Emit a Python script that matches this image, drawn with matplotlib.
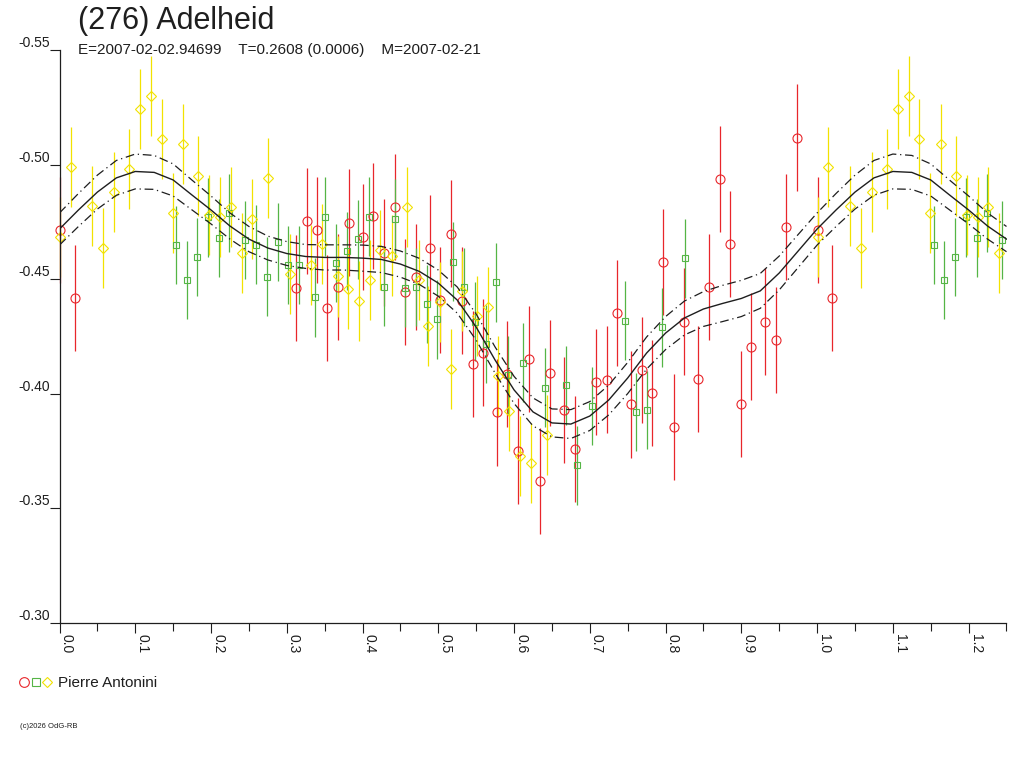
import numpy as np
import matplotlib
matplotlib.use('Agg')
import matplotlib.pyplot as plt
from matplotlib.lines import Line2D
from matplotlib.legend_handler import HandlerTuple

plt.rcParams['font.family'] = ['Liberation Sans', 'DejaVu Sans']

# ---------------- text ----------------
title = "(276) Adelheid"
subtitle = "E=2007-02-02.94699    T=0.2608 (0.0006)    M=2007-02-21"
observer = "Pierre Antonini"
copyright_txt = "(c)2026 OdG-RB"

# ---------------- data (phase, relative magnitude) ----------------
red_phase = [0.0007, 0.0201, 0.3116, 0.3261, 0.3393, 0.3533, 0.3678, 0.3819, 0.4000, 0.4140,
             0.4281, 0.4422, 0.4567, 0.4703, 0.4892, 0.5029, 0.5174, 0.5317, 0.5455, 0.5591,
             0.5781, 0.5908, 0.6058, 0.6194, 0.6339, 0.6480, 0.6660, 0.6801, 0.7078, 0.7222,
             0.7359, 0.7540, 0.7685, 0.7826, 0.7966, 0.8107, 0.8243, 0.8427, 0.8573, 0.8714,
             0.8846, 0.8991, 0.9132, 0.9317, 0.9453, 0.9594, 0.9734]
red_mag = [-0.4715, -0.4417, -0.4463, -0.4754, -0.4715, -0.4373, -0.4466, -0.4747, -0.4685, -0.4776,
           -0.4616, -0.4816, -0.4445, -0.4511, -0.4637, -0.4409, -0.4699, -0.4407, -0.4129, -0.4180,
           -0.3919, -0.4086, -0.3750, -0.4151, -0.3620, -0.4091, -0.3929, -0.3760, -0.4051, -0.4062,
           -0.4353, -0.3954, -0.4104, -0.4003, -0.4574, -0.3854, -0.4315, -0.4065, -0.4465, -0.4936,
           -0.4654, -0.3955, -0.4206, -0.4315, -0.4235, -0.4728, -0.5118]
red_err = 0.0232

green_phase = [0.1537, 0.1678, 0.1818, 0.1963, 0.2108, 0.2240, 0.2447, 0.2592, 0.2734, 0.2879,
               0.3018, 0.3164, 0.3367, 0.3509, 0.3644, 0.3789, 0.3934, 0.4079, 0.4277, 0.4422,
               0.4562, 0.4703, 0.4855, 0.4987, 0.5195, 0.5343, 0.5482, 0.5627, 0.5768, 0.5921,
               0.6119, 0.6405, 0.6686, 0.6831, 0.7034, 0.7470, 0.7615, 0.7755, 0.7958, 0.8252]
green_mag = [-0.4649, -0.4497, -0.4598, -0.4770, -0.4681, -0.4790, -0.4670, -0.4651, -0.4511, -0.4661,
             -0.4561, -0.4561, -0.4421, -0.4773, -0.4572, -0.4624, -0.4674, -0.4773, -0.4465, -0.4764,
             -0.4463, -0.4465, -0.4393, -0.4325, -0.4577, -0.4466, -0.4315, -0.4217, -0.4486, -0.4082,
             -0.4136, -0.4027, -0.4037, -0.3688, -0.3948, -0.4319, -0.3920, -0.3929, -0.4290, -0.4591]
green_err = 0.0171

yellow_phase = [0.0007, 0.0148, 0.0433, 0.0578, 0.0719, 0.0917, 0.1062, 0.1207, 0.1348, 0.1493,
                0.1633, 0.1831, 0.1976, 0.2121, 0.2259, 0.2404, 0.2544, 0.2753, 0.3037, 0.3318,
                0.3470, 0.3670, 0.3806, 0.3955, 0.4096, 0.4228, 0.4387, 0.4584, 0.4739, 0.4868,
                0.5020, 0.5165, 0.5310, 0.5512, 0.5653, 0.5794, 0.5934, 0.6075, 0.6230, 0.6435]
yellow_mag = [-0.4685, -0.4988, -0.4819, -0.4637, -0.4879, -0.4981, -0.5241, -0.5301, -0.5110, -0.4790,
              -0.5090, -0.4950, -0.4780, -0.4773, -0.4814, -0.4613, -0.4763, -0.4943, -0.4523, -0.4562,
              -0.4654, -0.4512, -0.4456, -0.4405, -0.4497, -0.4627, -0.4603, -0.4816, -0.4497, -0.4296,
              -0.4401, -0.4108, -0.4450, -0.4340, -0.4378, -0.4078, -0.3926, -0.3729, -0.3697, -0.3820]
yellow_err = 0.0175

# fitted lightcurve, sampled every 0.025 in phase from 0.0 to 1.0
fit_phase = [round(0.025 * i, 3) for i in range(41)]
fit_mag = [-0.4719, -0.4802, -0.4880, -0.4942, -0.4970, -0.4966, -0.4933, -0.4867, -0.4802, -0.4732,
           -0.4675, -0.4636, -0.4612, -0.4599, -0.4595, -0.4595, -0.4592, -0.4586, -0.4566, -0.4534,
           -0.4483, -0.4409, -0.4291, -0.4147, -0.4017, -0.3921, -0.3873, -0.3868, -0.3903, -0.3973,
           -0.4069, -0.4178, -0.4265, -0.4331, -0.4370, -0.4394, -0.4416, -0.4449, -0.4527, -0.4623,
           -0.4719]
fit_sigma = [0.0070, 0.0072, 0.0074, 0.0076, 0.0076, 0.0074, 0.0070, 0.0065, 0.0061, 0.0057,
             0.0055, 0.0052, 0.0052, 0.0052, 0.0055, 0.0055, 0.0057, 0.0057, 0.0057, 0.0057,
             0.0057, 0.0057, 0.0057, 0.0057, 0.0059, 0.0061, 0.0061, 0.0063, 0.0063, 0.0065,
             0.0068, 0.0070, 0.0072, 0.0074, 0.0076, 0.0079, 0.0079, 0.0076, 0.0074, 0.0072,
             0.0070]

x_ticks = [0.0, 0.1, 0.2, 0.3, 0.4, 0.5, 0.6, 0.7, 0.8, 0.9, 1.0, 1.1, 1.2]
x_tick_labels = ['0.0', '0.1', '0.2', '0.3', '0.4', '0.5', '0.6', '0.7', '0.8', '0.9', '1.0', '1.1', '1.2']
y_ticks = [-0.55, -0.50, -0.45, -0.40, -0.35, -0.30]
y_tick_labels = ['-0.55', '-0.50', '-0.45', '-0.40', '-0.35', '-0.30']

PHASE_MAX = 1.25

RED = '#e8262b'
GREEN = '#55b545'
YELLOW = '#f2e200'
INK = '#1e1e1e'


def wrap(ph, mg):
    ph = np.asarray(ph, dtype=float)
    mg = np.asarray(mg, dtype=float)
    sel = ph + 1.0 <= PHASE_MAX
    return np.concatenate([ph, ph[sel] + 1.0]), np.concatenate([mg, mg[sel]])


fig = plt.figure(figsize=(10.24, 7.68), dpi=100)
ax = fig.add_axes([59.5 / 1024, 1 - 623 / 768, (1006.5 - 59.5) / 1024, (623 - 50) / 768])

series = [
    (red_phase, red_mag, red_err, RED, 'o', 6.5),
    (green_phase, green_mag, green_err, GREEN, 's', 4.4),
    (yellow_phase, yellow_mag, yellow_err, YELLOW, 'D', 4.6),
]
for ph, mg, er, col, mk, ms in series:
    p2, m2 = wrap(ph, mg)
    ax.errorbar(p2, m2, yerr=er, fmt=mk, ms=ms, mfc='none', mec=col, mew=0.8,
                ecolor=col, elinewidth=0.9, capsize=0, clip_on=False, zorder=2)

# fitted curve and its uncertainty envelope
fp = np.asarray(fit_phase)
fm = np.asarray(fit_mag)
fs = np.asarray(fit_sigma)
ext = fp[1:] + 1.0 <= PHASE_MAX + 1e-9
fpx = np.concatenate([fp, fp[1:][ext] + 1.0])
fmx = np.concatenate([fm, fm[1:][ext]])
fsx = np.concatenate([fs, fs[1:][ext]])
ax.plot(fpx, fmx, color=INK, lw=1.0, zorder=3)
ax.plot(fpx, fmx - fsx, color=INK, lw=0.9, ls=(0, (7, 3, 1, 3)), zorder=3)
ax.plot(fpx, fmx + fsx, color=INK, lw=0.9, ls=(0, (7, 3, 1, 3)), zorder=3)

ax.set_xlim(0, PHASE_MAX)
ax.set_ylim(-0.30, -0.55)

for s in ('top', 'right'):
    ax.spines[s].set_visible(False)
for s in ('left', 'bottom'):
    ax.spines[s].set_color(INK)
    ax.spines[s].set_linewidth(0.9)

ax.set_xticks(x_ticks, x_tick_labels, rotation=-90, ha='left', va='top',
              fontsize=10, color=INK)
ax.set_xticks(np.arange(0.05, PHASE_MAX + 0.001, 0.1), minor=True)
ax.set_yticks(y_ticks, y_tick_labels, fontsize=10, color=INK, va='bottom')
ax.tick_params(axis='x', which='major', direction='out', length=7.2, width=0.8, pad=1, color=INK)
ax.tick_params(axis='x', which='minor', direction='out', length=6.0, width=0.8, color=INK)
ax.tick_params(axis='y', which='major', direction='out', length=7.0, width=0.8, pad=0, color=INK)

fig.text(78 / 1024, 1 - 29.5 / 768, title, fontsize=22, color=INK, ha='left', va='baseline')
fig.text(78 / 1024, 1 - 54 / 768, subtitle, fontsize=11, color=INK, ha='left', va='baseline')
fig.text(20.5 / 1024, 1 - 728 / 768, copyright_txt, fontsize=5.5, color=INK, ha='left', va='baseline')

h_red = Line2D([], [], ls='none', marker='o', ms=7.0, mfc='none', mec=RED, mew=0.8)
h_green = Line2D([], [], ls='none', marker='s', ms=5.2, mfc='none', mec=GREEN, mew=0.8)
h_yellow = Line2D([], [], ls='none', marker='D', ms=4.8, mfc='none', mec=YELLOW, mew=0.8)
fig.legend([(h_red, h_green, h_yellow)], [observer],
           handler_map={tuple: HandlerTuple(ndivide=None, pad=0.0)},
           loc='center left', bbox_to_anchor=(18.6 / 1024, 1 - 683 / 768),
           frameon=False, borderpad=0, borderaxespad=0, fontsize=11,
           handlelength=2.22, handletextpad=0.37, labelcolor=INK)

fig.savefig('out.png', dpi=100)
